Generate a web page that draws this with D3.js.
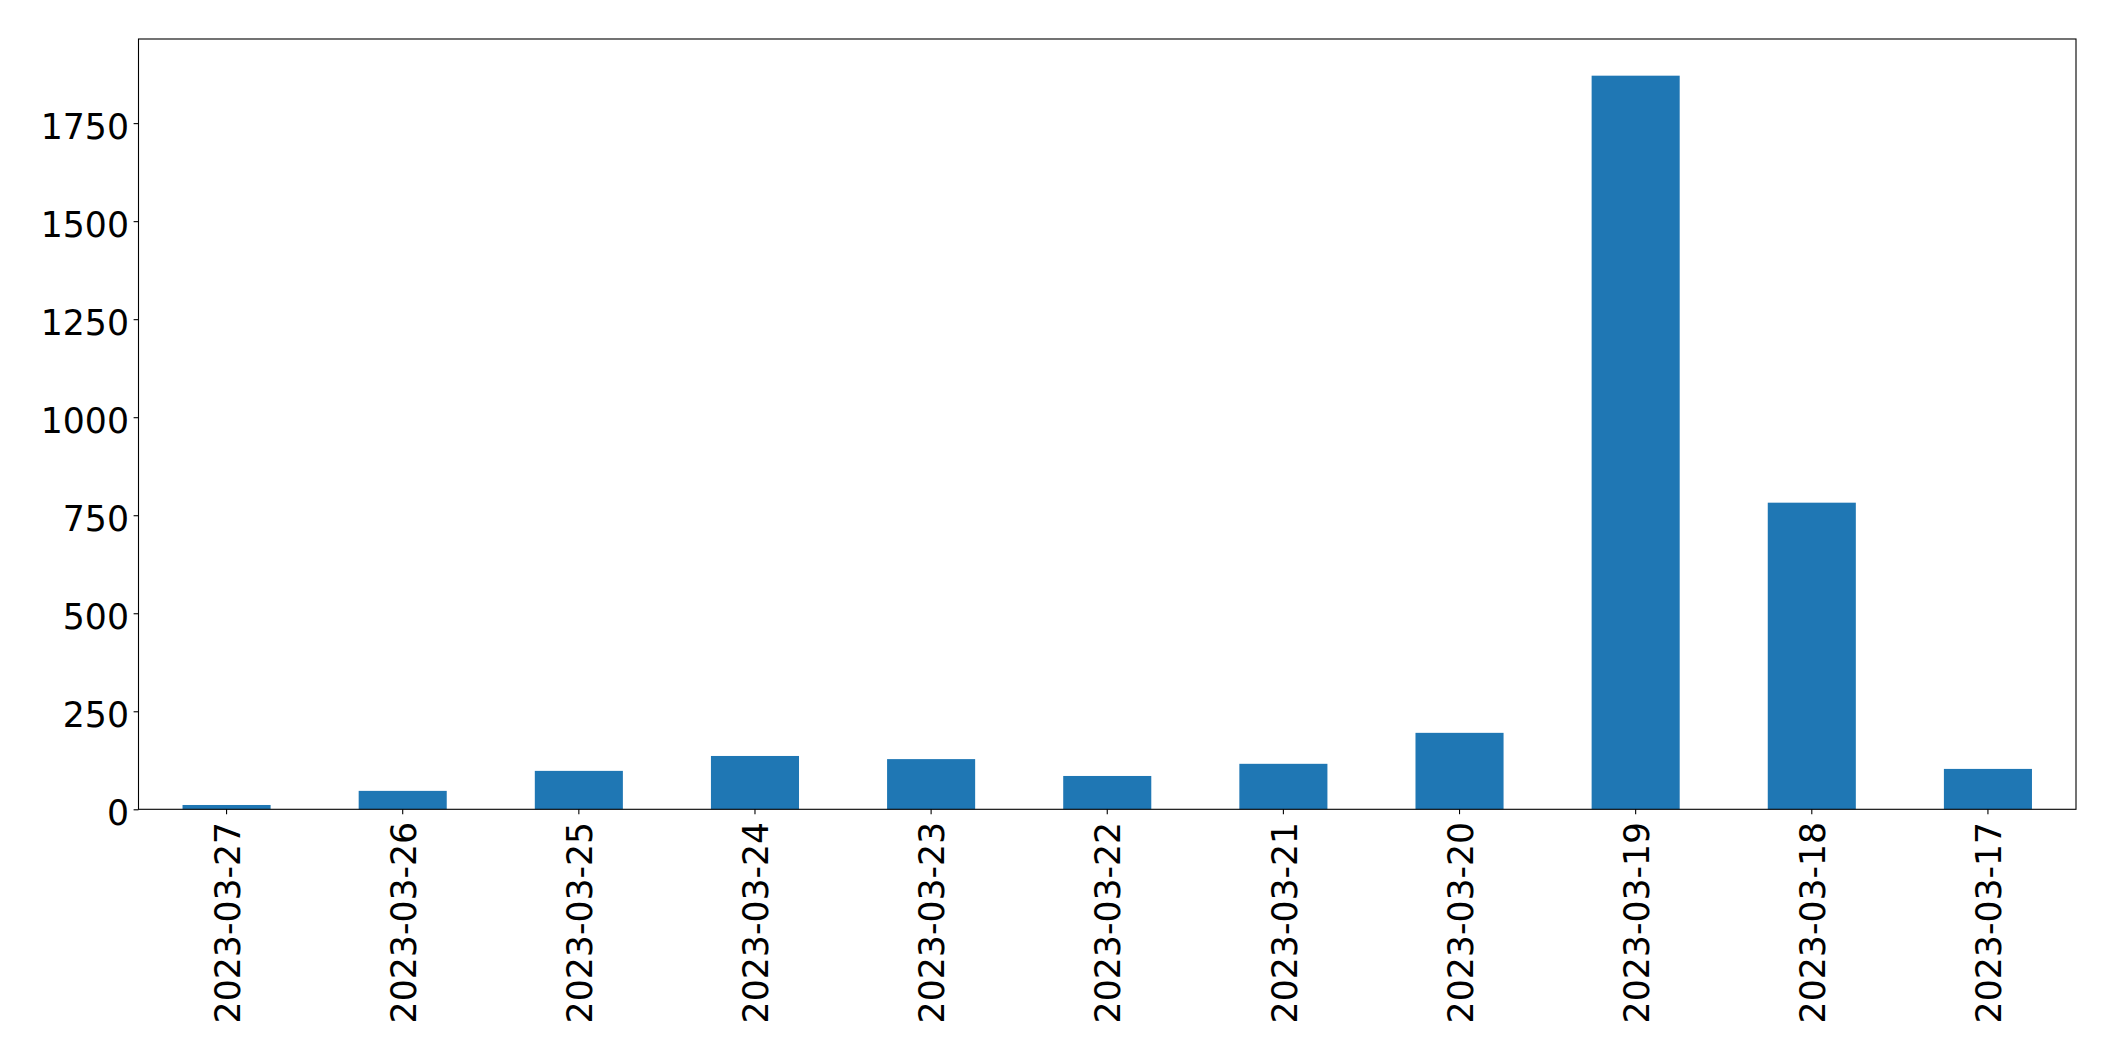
<!DOCTYPE html>
<html>
<head>
<meta charset="utf-8">
<script src="https://cdn.jsdelivr.net/npm/d3@7"></script>
<style>
  html, body { margin: 0; padding: 0; background: #ffffff; }
  svg { display: block; }
  text { font-family: "DejaVu Sans", sans-serif; fill: #000; }
</style>
</head>
<body>
<svg id="chart" width="2115" height="1061"></svg>
<script>
const categories = ["2023-03-27","2023-03-26","2023-03-25","2023-03-24","2023-03-23","2023-03-22","2023-03-21","2023-03-20","2023-03-19","2023-03-18","2023-03-17"];
const values = [11, 47, 98, 136, 128, 85, 116, 195, 1871, 782, 103];
const yTicks = [0, 250, 500, 750, 1000, 1250, 1500, 1750];

const W = 2115, H = 1061;
const margin = { left: 138.5, right: 2076, top: 39, bottom: 809.3 };
const fontSize = 34.7;
const svg = d3.select("#chart");

const x = d3.scaleBand()
  .domain(categories)
  .range([margin.left, margin.right])
  .paddingInner(0.5)
  .paddingOuter(0.25);

const yMax = d3.max(values) * 1.05;
const y = d3.scaleLinear().domain([0, yMax]).range([margin.bottom, margin.top]);

// bars
svg.append("g").selectAll("rect")
  .data(values)
  .join("rect")
  .attr("x", (d, i) => x(categories[i]))
  .attr("width", x.bandwidth())
  .attr("y", d => y(d))
  .attr("height", d => y(0) - y(d))
  .attr("fill", "#1f77b4");

// frame
svg.append("rect")
  .attr("x", margin.left).attr("y", margin.top)
  .attr("width", margin.right - margin.left)
  .attr("height", margin.bottom - margin.top)
  .attr("fill", "none").attr("stroke", "#000").attr("stroke-width", 1.1);

// y axis
const yAxis = d3.axisLeft(y).tickValues(yTicks).tickSize(4.9).tickPadding(4.9).tickFormat(d3.format("d"));
const gy = svg.append("g").attr("transform", `translate(${margin.left},0)`).call(yAxis);
gy.select(".domain").remove();
gy.selectAll(".tick line").attr("stroke", "#000").attr("stroke-width", 1.1);
gy.selectAll(".tick text")
  .attr("font-size", fontSize)
  .attr("font-family", "DejaVu Sans, sans-serif")
  .attr("fill", "#000")
  .attr("x", -9.5)
  .attr("dy", "0.43em");

// x axis
const xAxis = d3.axisBottom(x).tickSize(4.9).tickPadding(0);
const gx = svg.append("g").attr("transform", `translate(0,${margin.bottom})`).call(xAxis);
gx.select(".domain").remove();
gx.selectAll(".tick line").attr("stroke", "#000").attr("stroke-width", 1.1);
gx.selectAll(".tick text")
  .attr("font-size", fontSize)
  .attr("font-family", "DejaVu Sans, sans-serif")
  .attr("fill", "#000")
  .attr("text-anchor", "end")
  .attr("dy", null)
  .attr("x", 0)
  .attr("y", 0)
  .attr("transform", "translate(0,12.5) rotate(-90) translate(0," + (0.38 * fontSize) + ")");
</script>
</body>
</html>
